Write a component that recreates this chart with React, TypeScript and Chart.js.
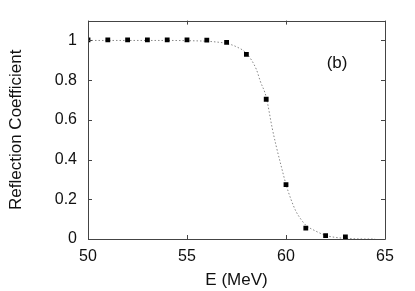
import React, { useEffect, useRef } from "react";
import { Chart, registerables } from "chart.js";

Chart.register(...registerables);

// Measured points
const energies = [50, 51, 52, 53, 54, 55, 56, 57, 58, 59, 60, 61, 62, 63];
const reflection = [1.003, 1.003, 1.003, 1.003, 1.003, 1.003, 1.002, 0.99, 0.93, 0.704, 0.274, 0.055, 0.017, 0.01];

// Fitted curve
const fitE = [50, 52, 54, 55, 56, 56.5, 57, 57.5, 58, 58.5, 58.7, 59, 59.3, 59.5, 59.75, 60, 60.25, 60.5, 60.75, 61, 61.5, 62, 62.5, 63, 63.5, 64, 64.5];
const fitR = [1.0, 1.0, 1.0, 0.999, 0.996, 0.992, 0.985, 0.968, 0.935, 0.855, 0.795, 0.715, 0.56, 0.47, 0.37, 0.275, 0.2, 0.14, 0.1, 0.07, 0.04, 0.018, 0.008, 0.003, 0.001, 0, 0];

const xTicks = [50, 55, 60, 65];
const yTicks = [0, 0.2, 0.4, 0.6, 0.8, 1];
const xRange = [50, 65];
const yRange = [0, 1.1];

const xTitle = "E (MeV)";
const yTitle = "Reflection Coefficient";
const panelLabel = "(b)";
const panelLabelPos = [62.58, 0.886];

const FONT = "'Liberation Sans', Arial, Helvetica, sans-serif";

const framePlugin = {
  id: "frame",
  afterDatasetsDraw(chart: any) {
    const { ctx, chartArea, scales } = chart;
    const { left, right, top, bottom } = chartArea;
    const x = scales.x;
    const y = scales.y;
    ctx.save();
    ctx.strokeStyle = "#444";
    ctx.lineWidth = 1;
    ctx.beginPath();
    ctx.rect(Math.round(left) + 0.5, Math.round(top) + 0.5, Math.round(right - left), Math.round(bottom - top));
    ctx.stroke();
    const tl = 4;
    ctx.beginPath();
    xTicks.forEach((v) => {
      const px = Math.round(x.getPixelForValue(v)) + 0.5;
      ctx.moveTo(px, bottom);
      ctx.lineTo(px, bottom - tl);
      ctx.moveTo(px, top);
      ctx.lineTo(px, top + tl);
    });
    yTicks.forEach((v) => {
      const py = Math.round(y.getPixelForValue(v)) + 0.5;
      ctx.moveTo(left, py);
      ctx.lineTo(left + tl, py);
      ctx.moveTo(right, py);
      ctx.lineTo(right - tl, py);
    });
    ctx.stroke();
    ctx.fillStyle = "#111";
    ctx.font = `17px ${FONT}`;
    ctx.textAlign = "center";
    ctx.textBaseline = "middle";
    ctx.fillText(panelLabel, x.getPixelForValue(panelLabelPos[0]), y.getPixelForValue(panelLabelPos[1]));
    ctx.restore();
  },
};

export default function App() {
  const ref = useRef<HTMLCanvasElement | null>(null);
  useEffect(() => {
    if (!ref.current) return;
    const chart = new Chart(ref.current, {
      type: "scatter",
      data: {
        datasets: [
          {
            label: "fit",
            data: fitE.map((e, i) => ({ x: e, y: fitR[i] })),
            showLine: true,
            borderColor: "#888",
            borderWidth: 1,
            borderDash: [1.5, 2],
            pointRadius: 0,
            cubicInterpolationMode: "monotone",
            order: 2,
          },
          {
            label: "data",
            data: energies.map((e, i) => ({ x: e, y: reflection[i] })),
            showLine: false,
            pointStyle: "rect",
            pointRadius: 3.4,
            backgroundColor: "#000",
            borderColor: "#000",
            borderWidth: 0,
            order: 1,
          },
        ],
      },
      options: {
        responsive: false,
        animation: false,
        layout: { padding: { top: 20, right: 30, left: 0, bottom: 0 } },
        plugins: { legend: { display: false }, tooltip: { enabled: false } },
        scales: {
          x: {
            type: "linear",
            min: xRange[0],
            max: xRange[1],
            afterBuildTicks: (s: any) => {
              s.ticks = xTicks.map((v) => ({ value: v }));
            },
            afterFit: (s: any) => {
              s.height = 52;
            },
            grid: { display: false, drawTicks: false },
            border: { display: false },
            ticks: {
              padding: 8,
              color: "#111",
              font: { family: FONT, size: 16 },
              maxRotation: 0,
              callback: (v: any) => String(v),
            },
            title: {
              display: true,
              text: xTitle,
              color: "#111",
              font: { family: FONT, size: 17 },
              padding: { top: 0, bottom: 0 },
            },
          },
          y: {
            type: "linear",
            min: yRange[0],
            max: yRange[1],
            afterBuildTicks: (s: any) => {
              s.ticks = yTicks.map((v) => ({ value: v }));
            },
            afterFit: (s: any) => {
              s.width = 88;
            },
            grid: { display: false, drawTicks: false },
            border: { display: false },
            ticks: {
              padding: 11,
              color: "#111",
              font: { family: FONT, size: 16 },
              callback: (v: any) => String(v),
            },
            title: {
              display: true,
              text: yTitle,
              color: "#111",
              font: { family: FONT, size: 17 },
              padding: { top: 6, bottom: 0 },
            },
          },
        },
      },
      plugins: [framePlugin],
    } as any);
    return () => chart.destroy();
  }, []);
  return (
    <div style={{ position: "absolute", left: 0, top: 0, width: 415, height: 291, background: "#fff" }}>
      <canvas ref={ref} width={415} height={291} />
    </div>
  );
}
